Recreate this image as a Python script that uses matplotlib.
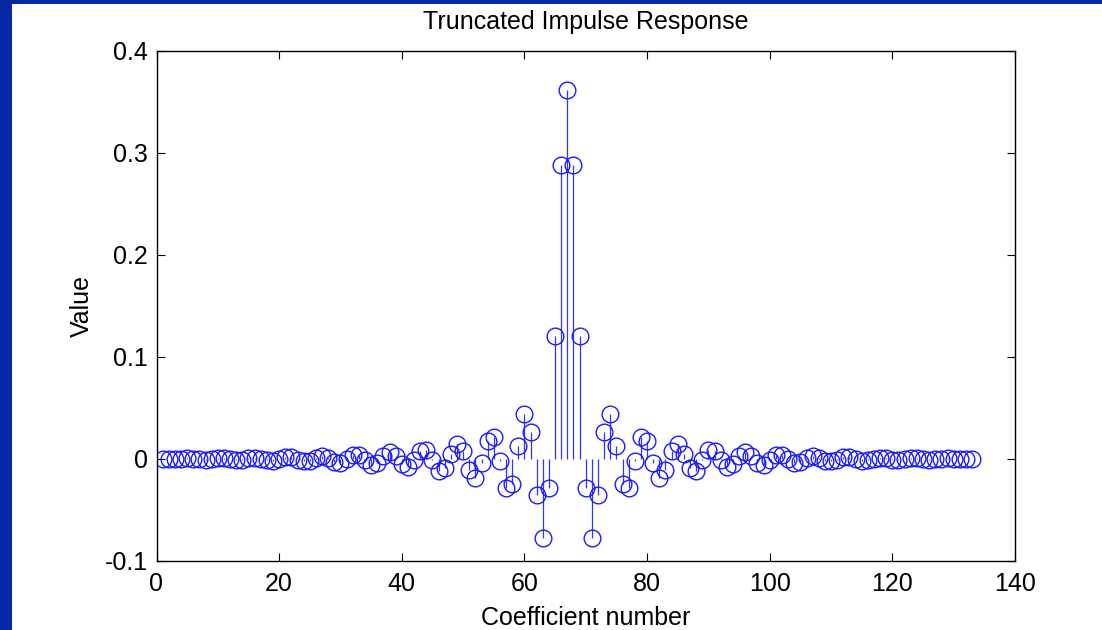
import matplotlib
matplotlib.use("Agg")
import matplotlib.pyplot as plt
from matplotlib.patches import Rectangle

plt.rcParams['font.family'] = ['Liberation Sans', 'DejaVu Sans']

# Coefficient numbers and values
coef_numbers = list(range(1, 134))
values = [
    -0.0001, -0.0004, -0.0002, 0.0002, 0.0005, 0.0001, -0.0004, -0.0005, 0.0000, 0.0006,
    0.0006, -0.0002, -0.0009, -0.0005, 0.0006, 0.0012, 0.0004, -0.0011, -0.0015, -0.0001,
    0.0017, 0.0016, -0.0005, -0.0024, -0.0016, 0.0014, 0.0031, 0.0012, -0.0025, -0.0037,
    -0.0004, 0.0039, 0.0040, -0.0009, -0.0054, -0.0039, 0.0027, 0.0069, 0.0030, -0.0052,
    -0.0081, -0.0014, 0.0080, 0.0089, -0.0012, -0.0114, -0.0088, 0.0052, 0.0149, 0.0075,
    -0.0106, -0.0184, -0.0043, 0.0178, 0.0217, -0.0015, -0.0281, -0.0245, 0.0124, 0.0441,
    0.0268, -0.0353, -0.0778, -0.0282, 0.1210, 0.2887,
    0.3620,
    0.2887, 0.1210, -0.0282, -0.0778, -0.0353, 0.0268, 0.0441, 0.0124, -0.0245, -0.0281,
    -0.0015, 0.0217, 0.0178, -0.0043, -0.0184, -0.0106, 0.0075, 0.0149, 0.0052, -0.0088,
    -0.0114, -0.0012, 0.0089, 0.0080, -0.0014, -0.0081, -0.0052, 0.0030, 0.0069, 0.0027,
    -0.0039, -0.0054, -0.0009, 0.0040, 0.0039, -0.0004, -0.0037, -0.0025, 0.0012, 0.0031,
    0.0014, -0.0016, -0.0024, -0.0005, 0.0016, 0.0017, -0.0001, -0.0015, -0.0011, 0.0004,
    0.0012, 0.0006, -0.0005, -0.0009, -0.0002, 0.0006, 0.0006, 0.0000, -0.0005, -0.0004,
    0.0001, 0.0005, 0.0002, -0.0002, -0.0004, -0.0001,
]
x_ticks = [0, 20, 40, 60, 80, 100, 120, 140]
y_ticks = [-0.1, 0, 0.1, 0.2, 0.3, 0.4]
y_tick_labels = ['-0.1', '0', '0.1', '0.2', '0.3', '0.4']

fig = plt.figure(figsize=(11.02, 6.30), dpi=100)
fig.patch.set_facecolor('white')
# blue slide border (left and top)
fig.patches.append(Rectangle((0, 0), 12 / 1102, 1, transform=fig.transFigure,
                             facecolor='#0629a3', edgecolor='none', zorder=0))
fig.patches.append(Rectangle((0, 1 - 4 / 630), 1, 4 / 630, transform=fig.transFigure,
                             facecolor='#0629a3', edgecolor='none', zorder=0))

ax = fig.add_axes([156.5 / 1102, 69 / 630, (1015 - 156.5) / 1102, (561 - 51) / 630])

ax.vlines(coef_numbers, 0, values, colors='#3333ff', linewidth=0.9)
ax.plot(coef_numbers, values, linestyle='none', marker='o', markersize=12,
        markerfacecolor='none', markeredgecolor='#1a1aff', markeredgewidth=1.0)

ax.set_xlim(0, 140)
ax.set_ylim(-0.1, 0.4)
ax.set_xticks(x_ticks)
ax.set_xticklabels([str(t) for t in x_ticks])
ax.set_yticks(y_ticks)
ax.set_yticklabels(y_tick_labels)

for s in ax.spines.values():
    s.set_linewidth(1.0)
    s.set_color('black')

ax.tick_params(axis='both', direction='in', length=6, width=0.8,
               top=True, right=True, labelsize=18, colors='black')
ax.tick_params(axis='x', pad=8)
ax.tick_params(axis='y', pad=6)

ax.set_title('Truncated Impulse Response', fontsize=18, pad=16)
ax.set_xlabel('Coefficient number', fontsize=18, labelpad=7)
ax.set_ylabel('Value', fontsize=18, labelpad=8)

fig.savefig('out.png', dpi=100)
